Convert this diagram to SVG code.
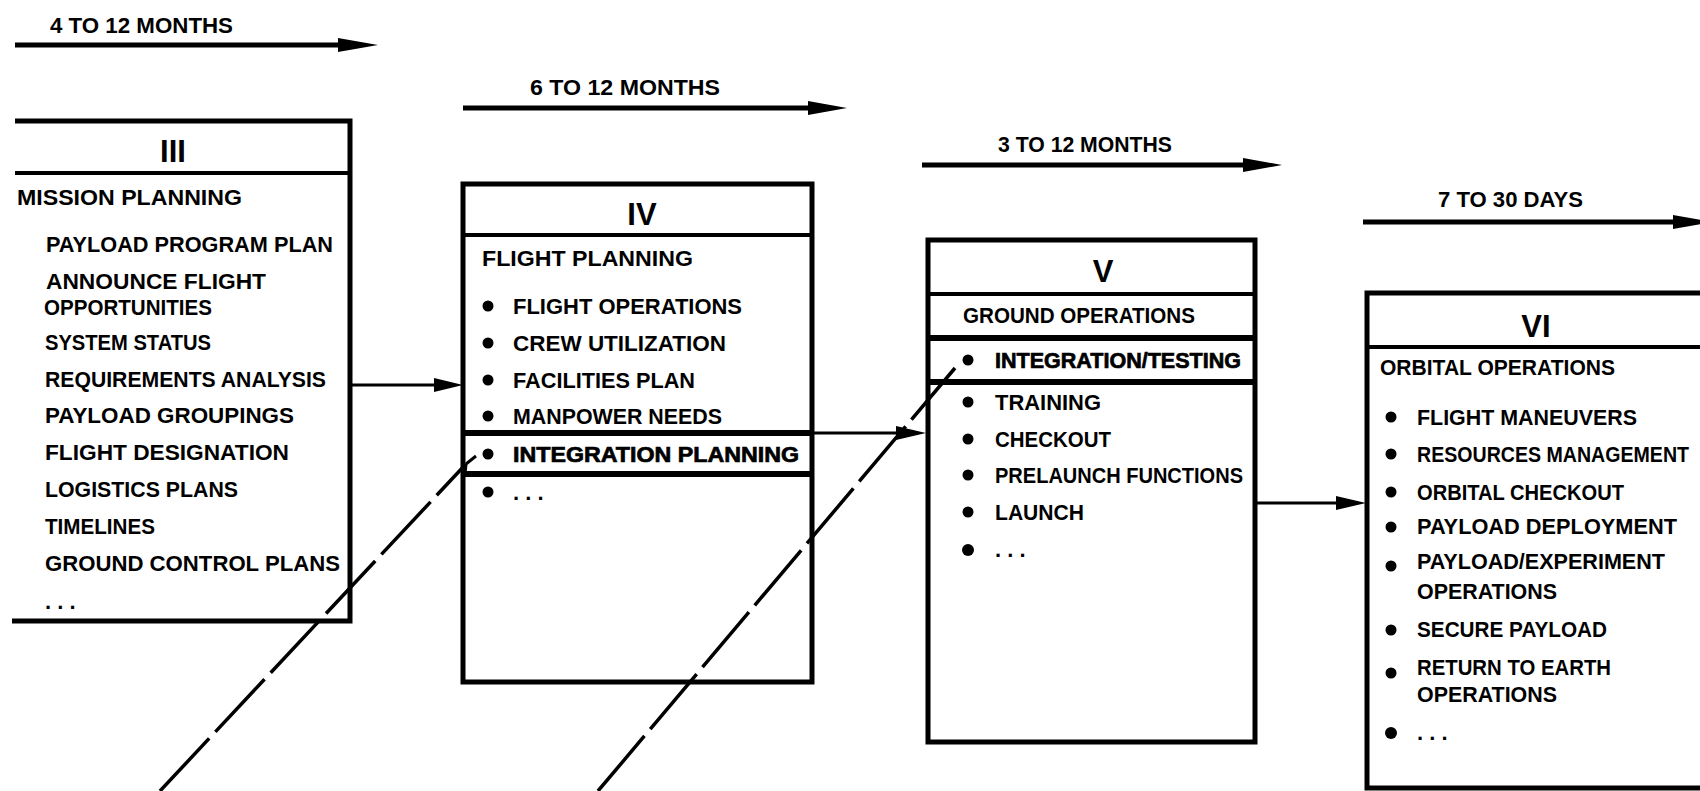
<svg xmlns="http://www.w3.org/2000/svg" width="1700" height="791" viewBox="0 0 1700 791">
<style>
text{font-family:"Liberation Sans",Arial,sans-serif;font-weight:bold;font-size:22px;fill:#000}
.num{font-size:31px;text-anchor:middle}
.hi{stroke:#000;stroke-width:0.7}
.box{fill:#fff;stroke:#000;stroke-width:5}
.div{stroke:#000;stroke-width:4}
.thick{stroke:#000;stroke-width:6}
.tl{stroke:#000;stroke-width:5;fill:none}
.con{stroke:#000;stroke-width:3;fill:none}
.dash{stroke:#000;stroke-width:3.5;fill:none;stroke-dasharray:72 9}
.dot{fill:#000}
</style>
<rect width="1700" height="791" fill="#fff"/>

<g id="timelines">
  <text x="50" y="33" textLength="183" lengthAdjust="spacingAndGlyphs">4 TO 12 MONTHS</text>
  <line class="tl" x1="15" y1="45" x2="345" y2="45"/>
  <polygon points="338,38 378,45 338,52"/>
  <text x="530" y="95" textLength="190" lengthAdjust="spacingAndGlyphs">6 TO 12 MONTHS</text>
  <line class="tl" x1="463" y1="108" x2="815" y2="108"/>
  <polygon points="808,101 847,108 808,115"/>
  <text x="998" y="152" textLength="174" lengthAdjust="spacingAndGlyphs">3 TO 12 MONTHS</text>
  <line class="tl" x1="922" y1="165" x2="1250" y2="165"/>
  <polygon points="1243,158 1282,165 1243,172"/>
  <text x="1438" y="207" textLength="145" lengthAdjust="spacingAndGlyphs">7 TO 30 DAYS</text>
  <line class="tl" x1="1363" y1="222" x2="1680" y2="222"/>
  <polygon points="1673,215 1712,222 1673,229"/>
</g>

<g id="phase3">
  <path d="M15 121 H350 V621 H12" fill="#fff" stroke="#000" stroke-width="5"/>
  <line class="div" x1="15" y1="173" x2="348" y2="173"/>
  <text class="num" x="173" y="162">III</text>
  <text x="17" y="205" textLength="225" lengthAdjust="spacingAndGlyphs">MISSION PLANNING</text>
  <text x="46" y="252" textLength="287" lengthAdjust="spacingAndGlyphs">PAYLOAD PROGRAM PLAN</text>
  <text x="46" y="289" textLength="220" lengthAdjust="spacingAndGlyphs">ANNOUNCE FLIGHT</text>
  <text x="44" y="315" textLength="168" lengthAdjust="spacingAndGlyphs">OPPORTUNITIES</text>
  <text x="45" y="350" textLength="166" lengthAdjust="spacingAndGlyphs">SYSTEM STATUS</text>
  <text x="45" y="387" textLength="281" lengthAdjust="spacingAndGlyphs">REQUIREMENTS ANALYSIS</text>
  <text x="45" y="423" textLength="249" lengthAdjust="spacingAndGlyphs">PAYLOAD GROUPINGS</text>
  <text x="45" y="460" textLength="244" lengthAdjust="spacingAndGlyphs">FLIGHT DESIGNATION</text>
  <text x="45" y="497" textLength="193" lengthAdjust="spacingAndGlyphs">LOGISTICS PLANS</text>
  <text x="45" y="534" textLength="110" lengthAdjust="spacingAndGlyphs">TIMELINES</text>
  <text x="45" y="571" textLength="295" lengthAdjust="spacingAndGlyphs">GROUND CONTROL PLANS</text>
  <text x="45" y="609">. . .</text>
</g>

<g id="phase4">
  <rect class="box" x="463" y="184" width="349" height="498"/>
  <line class="div" x1="463" y1="235" x2="812" y2="235"/>
  <text class="num" x="642" y="225">IV</text>
  <text x="482" y="266" textLength="211" lengthAdjust="spacingAndGlyphs">FLIGHT PLANNING</text>
  <circle class="dot" cx="488" cy="306" r="5.5"/><text x="513" y="314" textLength="229" lengthAdjust="spacingAndGlyphs">FLIGHT OPERATIONS</text>
  <circle class="dot" cx="488" cy="343" r="5.5"/><text x="513" y="351" textLength="213" lengthAdjust="spacingAndGlyphs">CREW UTILIZATION</text>
  <circle class="dot" cx="488" cy="380" r="5.5"/><text x="513" y="388" textLength="182" lengthAdjust="spacingAndGlyphs">FACILITIES PLAN</text>
  <circle class="dot" cx="488" cy="416" r="5.5"/><text x="513" y="424" textLength="209" lengthAdjust="spacingAndGlyphs">MANPOWER NEEDS</text>
  <line class="thick" x1="463" y1="433" x2="812" y2="433"/>
  <circle class="dot" cx="488" cy="454" r="5.5"/><text class="hi" x="513" y="462" textLength="286" lengthAdjust="spacingAndGlyphs">INTEGRATION PLANNING</text>
  <line class="thick" x1="463" y1="474" x2="812" y2="474"/>
  <circle class="dot" cx="488" cy="492" r="5.5"/><text x="513" y="500">. . .</text>
</g>

<g id="phase5">
  <rect class="box" x="928" y="240" width="327" height="502"/>
  <line class="div" x1="928" y1="294" x2="1255" y2="294"/>
  <text class="num" x="1103" y="282">V</text>
  <text x="963" y="323" textLength="232" lengthAdjust="spacingAndGlyphs">GROUND OPERATIONS</text>
  <line class="thick" x1="928" y1="338" x2="1255" y2="338"/>
  <circle class="dot" cx="968" cy="360" r="5.5"/><text class="hi" x="995" y="368" textLength="246" lengthAdjust="spacingAndGlyphs">INTEGRATION/TESTING</text>
  <line class="thick" x1="928" y1="382" x2="1255" y2="382"/>
  <circle class="dot" cx="968" cy="402" r="5.5"/><text x="995" y="410" textLength="106" lengthAdjust="spacingAndGlyphs">TRAINING</text>
  <circle class="dot" cx="968" cy="439" r="5.5"/><text x="995" y="447" textLength="116" lengthAdjust="spacingAndGlyphs">CHECKOUT</text>
  <circle class="dot" cx="968" cy="475" r="5.5"/><text x="995" y="483" textLength="248" lengthAdjust="spacingAndGlyphs">PRELAUNCH FUNCTIONS</text>
  <circle class="dot" cx="968" cy="512" r="5.5"/><text x="995" y="520" textLength="89" lengthAdjust="spacingAndGlyphs">LAUNCH</text>
  <circle class="dot" cx="968" cy="550" r="6"/><text x="995" y="557">. . .</text>
</g>

<g id="phase6">
  <rect class="box" x="1367" y="293" width="400" height="495"/>
  <line class="div" x1="1367" y1="347" x2="1700" y2="347"/>
  <text class="num" x="1536" y="337">VI</text>
  <text x="1380" y="375" textLength="235" lengthAdjust="spacingAndGlyphs">ORBITAL OPERATIONS</text>
  <circle class="dot" cx="1391" cy="417" r="5.5"/><text x="1417" y="425" textLength="220" lengthAdjust="spacingAndGlyphs">FLIGHT MANEUVERS</text>
  <circle class="dot" cx="1391" cy="454" r="5.5"/><text x="1417" y="462" font-size="19.5" textLength="272" lengthAdjust="spacingAndGlyphs">RESOURCES MANAGEMENT</text>
  <circle class="dot" cx="1391" cy="492" r="5.5"/><text x="1417" y="500" textLength="207" lengthAdjust="spacingAndGlyphs">ORBITAL CHECKOUT</text>
  <circle class="dot" cx="1391" cy="527" r="5.5"/><text x="1417" y="534" textLength="260" lengthAdjust="spacingAndGlyphs">PAYLOAD DEPLOYMENT</text>
  <circle class="dot" cx="1391" cy="566" r="5.5"/><text x="1417" y="569" textLength="248" lengthAdjust="spacingAndGlyphs">PAYLOAD/EXPERIMENT</text>
  <text x="1417" y="599" textLength="140" lengthAdjust="spacingAndGlyphs">OPERATIONS</text>
  <circle class="dot" cx="1391" cy="630" r="5.5"/><text x="1417" y="637" textLength="190" lengthAdjust="spacingAndGlyphs">SECURE PAYLOAD</text>
  <circle class="dot" cx="1391" cy="673" r="5.5"/><text x="1417" y="675" textLength="194" lengthAdjust="spacingAndGlyphs">RETURN TO EARTH</text>
  <text x="1417" y="702" textLength="140" lengthAdjust="spacingAndGlyphs">OPERATIONS</text>
  <circle class="dot" cx="1391" cy="733" r="6"/><text x="1417" y="740">. . .</text>
</g>

<g id="connectors">
  <line class="con" x1="350" y1="385" x2="440" y2="385"/>
  <polygon points="434,378 463,385 434,392"/>
  <line class="con" x1="812" y1="433" x2="900" y2="433"/>
  <polygon points="896,426 926,433 896,440"/>
  <line class="con" x1="1255" y1="503" x2="1340" y2="503"/>
  <polygon points="1336,496 1366,503 1336,510"/>
  <line class="dash" x1="160" y1="791" x2="466" y2="464"/>
  <path d="M466 464 L476 456 M466 464 L465 474" stroke="#000" stroke-width="3" fill="none"/>
  <line class="dash" x1="598" y1="791" x2="955" y2="368"/>
</g>
</svg>
